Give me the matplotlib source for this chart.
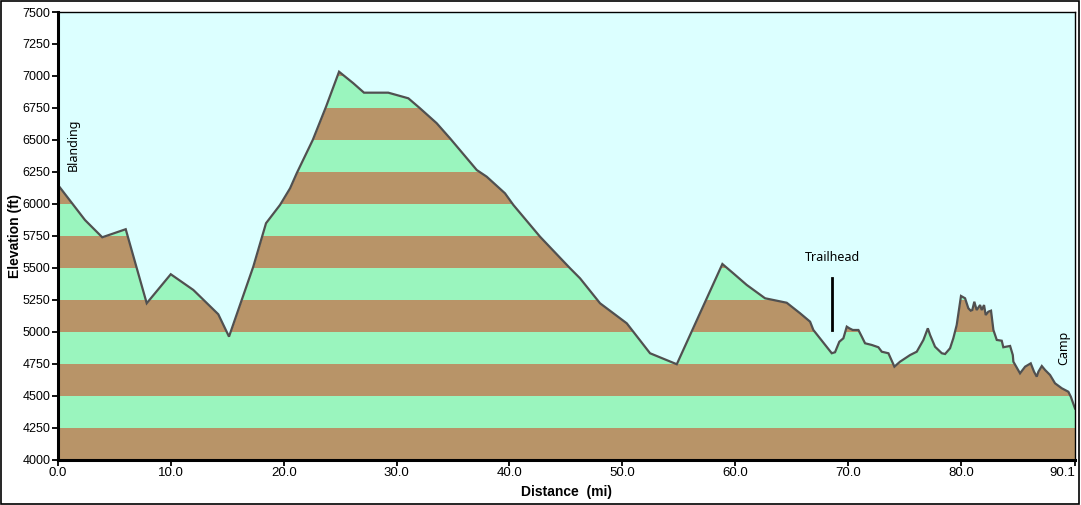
import matplotlib
matplotlib.use("Agg")
import matplotlib.pyplot as plt
from matplotlib.patches import Rectangle

# ---- data ----
distance_mi = [0.0, 2.39, 3.92, 6.0, 7.86, 9.99, 11.99, 14.2, 15.15, 17.3, 18.43, 19.67,
               20.56, 21.15, 22.57, 23.75, 24.9, 26.16, 27.11, 29.26, 31.04, 32.07, 33.55,
               34.73, 37.1, 37.98, 39.6, 40.34, 42.7, 45.36, 46.25, 48.02, 50.39, 52.45,
               54.82, 58.86, 59.83, 61.02, 62.64, 64.56, 65.74, 66.63, 66.92, 68.55, 68.84,
               69.22, 69.58, 69.88, 70.11, 70.41, 70.91, 71.21, 71.5, 72.09, 72.68, 72.98,
               73.57, 74.1, 74.6, 75.49, 76.08, 76.67, 77.06, 77.26, 77.7, 78.3, 78.59,
               79.03, 79.32, 79.62, 80.0, 80.36, 80.65, 80.86, 81.0, 81.18, 81.39, 81.69,
               81.84, 82.04, 82.19, 82.42, 82.66, 82.87, 83.17, 83.61, 83.75, 84.35, 84.59,
               84.64, 85.23, 85.68, 86.18, 86.47, 86.71, 86.86, 87.16, 87.45, 87.89, 88.33,
               88.93, 89.51, 89.73, 90.1]
elevation_ft = [6147, 5873, 5738, 5801, 5222, 5449, 5326, 5136, 4961, 5508, 5848, 5991,
                6121, 6239, 6499, 6760, 7033, 6943, 6869, 6869, 6825, 6747, 6630,
                6512, 6264, 6212, 6082, 5991, 5743, 5496, 5417, 5222, 5065, 4831,
                4745, 5529, 5456, 5365, 5261, 5226, 5144, 5078, 5013, 4831, 4839,
                4921, 4948, 5039, 5026, 5013, 5013, 4961, 4909, 4896, 4878, 4843,
                4831, 4726, 4765, 4817, 4843, 4935, 5026, 4974, 4882, 4831, 4825,
                4870, 4948, 5052, 5279, 5261, 5183, 5164, 5169, 5234, 5169, 5208,
                5169, 5208, 5130, 5156, 5164, 5013, 4935, 4929, 4878, 4888, 4817,
                4765, 4674, 4726, 4752, 4687, 4648, 4687, 4731, 4700, 4661, 4596,
                4557, 4530, 4491, 4399]

x_ticks = [0.0, 10.0, 20.0, 30.0, 40.0, 50.0, 60.0, 70.0, 80.0, 90.1]
x_tick_labels = ["0.0", "10.0", "20.0", "30.0", "40.0", "50.0", "60.0", "70.0", "80.0", "90.1"]
y_ticks = [4000, 4250, 4500, 4750, 5000, 5250, 5500, 5750, 6000, 6250, 6500, 6750, 7000, 7250, 7500]

band_edges = y_ticks
place_labels = ["Blanding", "Trailhead", "Camp"]
place_x = [1.33, 68.66, 89.07]
place_y = [6460, 5576, 4870]
place_rot = [90, 0, 90]
trailhead_mark_x = 68.55
trailhead_mark_y = [5013, 5417]

# ---- style ----
SKY = "#DCFFFF"
BROWN = "#B89468"
GREEN = "#9AF5BE"
LINE = "#505050"

fig = plt.figure(figsize=(10.81, 5.05), dpi=100)
fig.patch.set_facecolor("white")
ax = fig.add_axes([58 / 1081, 1 - 459.5 / 505, (1075 - 58) / 1081, (459.5 - 12) / 505])
ax.set_facecolor(SKY)

xmax = distance_mi[-1]
ax.set_xlim(0, xmax)
ax.set_ylim(4000, 7500)

# elevation bands
for i in range(len(band_edges) - 1):
    ax.axhspan(band_edges[i], band_edges[i + 1], color=BROWN if i % 2 == 0 else GREEN,
               lw=0, zorder=1)
# sky above the profile
ax.fill_between(distance_mi, elevation_ft, 7500, color=SKY, lw=0, zorder=2)
ax.plot(distance_mi, elevation_ft, color=LINE, lw=1.6, zorder=3, solid_joinstyle="miter")

# markers / labels
ax.plot([trailhead_mark_x, trailhead_mark_x], trailhead_mark_y, color="black", lw=2, zorder=4)
for lab, px, py, rot in zip(place_labels, place_x, place_y, place_rot):
    ax.text(px, py, lab, rotation=rot, ha="center", va="center", fontsize=9,
            family=["Noto Sans", "DejaVu Sans"], color="black", zorder=5)

# axes
ax.set_xticks(x_ticks)
ax.set_xticklabels(x_tick_labels, family=["Liberation Sans Narrow", "Liberation Sans", "DejaVu Sans"],
                   fontsize=9.5)
ax.get_xticklabels()[-1].set_horizontalalignment("right")
ax.set_yticks(y_ticks)
ax.set_yticklabels([str(v) for v in y_ticks], family=["Liberation Sans", "DejaVu Sans"], fontsize=9)
ax.tick_params(axis="both", direction="out", length=4, width=1.3, color="black", pad=1.5)

for side in ["left", "bottom"]:
    ax.spines[side].set_linewidth(2.2)
for side in ["top", "right"]:
    ax.spines[side].set_linewidth(1.0)
for s in ax.spines.values():
    s.set_color("black")
    s.set_zorder(6)

ax.set_xlabel("Distance  (mi)", fontsize=10, fontweight="bold",
              family=["Liberation Sans Narrow", "Liberation Sans", "DejaVu Sans"], labelpad=4)
ax.set_ylabel("Elevation (ft)", fontsize=10, fontweight="bold",
              family=["Liberation Sans", "DejaVu Sans"], labelpad=0)

# outer figure border
fig.add_artist(Rectangle((0.0005, 0.001), 0.998, 0.997, transform=fig.transFigure,
                         fill=False, edgecolor="black", lw=1.2))

fig.savefig("out.png", dpi=100)
